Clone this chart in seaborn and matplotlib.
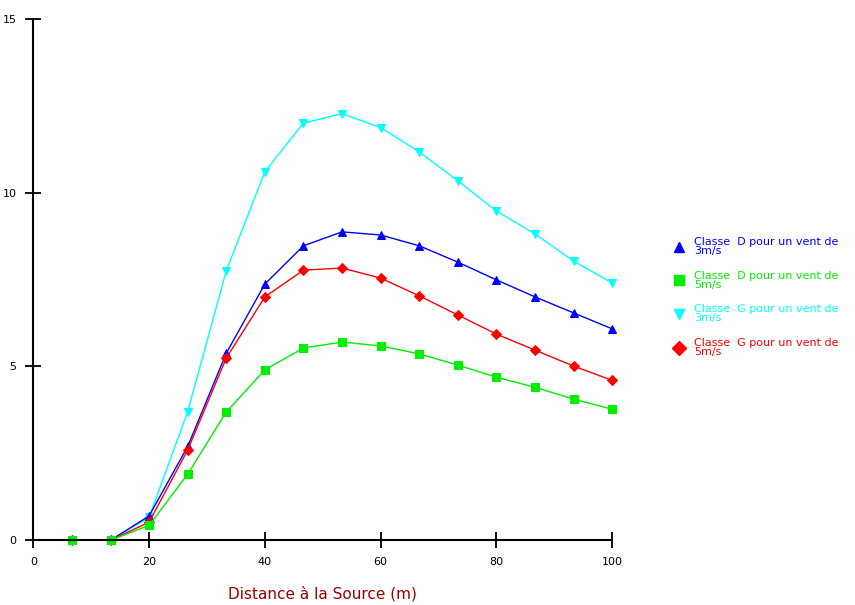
import numpy as np
import pandas as pd
import seaborn as sns
import matplotlib.pyplot as plt

sns.set_style('white')

# distances (m)
distance = [6.67, 13.33, 20, 26.67, 33.33, 40, 46.67, 53.33, 60, 66.67, 73.33, 80, 86.67, 93.33, 100]

# concentrations
classe_d_3 = [0, 0, 0.7, 2.7, 5.38, 7.37, 8.47, 8.87, 8.78, 8.47, 8.0, 7.49, 7.0, 6.54, 6.08]
classe_d_5 = [0, 0, 0.43, 1.9, 3.69, 4.9, 5.53, 5.7, 5.59, 5.36, 5.04, 4.69, 4.4, 4.06, 3.77]
classe_g_3 = [0, 0, 0.66, 3.7, 7.75, 10.6, 12.0, 12.27, 11.87, 11.17, 10.34, 9.47, 8.81, 8.03, 7.4]
classe_g_5 = [0, 0, 0.52, 2.6, 5.24, 7.0, 7.77, 7.83, 7.54, 7.03, 6.48, 5.93, 5.47, 5.01, 4.6]

labels = ['Classe  D pour un vent de\n3m/s', 'Classe  D pour un vent de\n5m/s',
          'Classe  G pour un vent de\n3m/s', 'Classe  G pour un vent de\n5m/s']
series = [classe_d_3, classe_d_5, classe_g_3, classe_g_5]
couleurs = ['#0000ff', '#00ee00', '#00ffff', '#ff0000']
marqueurs = ['^', 's', 'v', 'D']

df = pd.concat([pd.DataFrame({'distance': distance, 'conc': s, 'serie': lab})
                for lab, s in zip(labels, series)], ignore_index=True)

fig = plt.figure(figsize=(8.55, 6.05), dpi=100)
ax = fig.add_axes([0.039, 0.107, 0.677, 0.862])

# ordre de dessin : cyan derrière
ordre = [2, 0, 3, 1]
for i in ordre:
    sns.lineplot(data=df[df['serie'] == labels[i]], x='distance', y='conc', ax=ax,
                 color=couleurs[i], marker=marqueurs[i], markersize=6 if i != 3 else 5,
                 markeredgecolor=couleurs[i], linewidth=1.0, clip_on=False, legend=False)

ax.set_xlim(0, 100)
ax.set_ylim(0, 15)
ax.set_xticks([0, 20, 40, 60, 80, 100])
ax.set_yticks([0, 5, 10, 15])
ax.tick_params(bottom=True, left=True, direction='inout', length=12, width=1.3,
               labelsize=8, pad=6, colors='black')
sns.despine(ax=ax)
for sp in ['left', 'bottom']:
    ax.spines[sp].set_linewidth(1.5)
    ax.spines[sp].set_color('black')
ax.set_ylabel('')
ax.set_xlabel('Distance à la Source (m)', color='#990000', fontsize=11, labelpad=14)

# légende
handles = [plt.Line2D([], [], color=c, marker=m, linestyle='none', markersize=7)
           for c, m in zip(couleurs, marqueurs)]
leg = fig.legend(handles, labels, loc='upper left', bbox_to_anchor=(0.77, 0.625),
                 frameon=False, fontsize=8, labelcolor=couleurs, handletextpad=0.3,
                 labelspacing=1.3)
for t in leg.get_texts():
    t.set_linespacing(0.9)

plt.savefig('out.png', dpi=100)
